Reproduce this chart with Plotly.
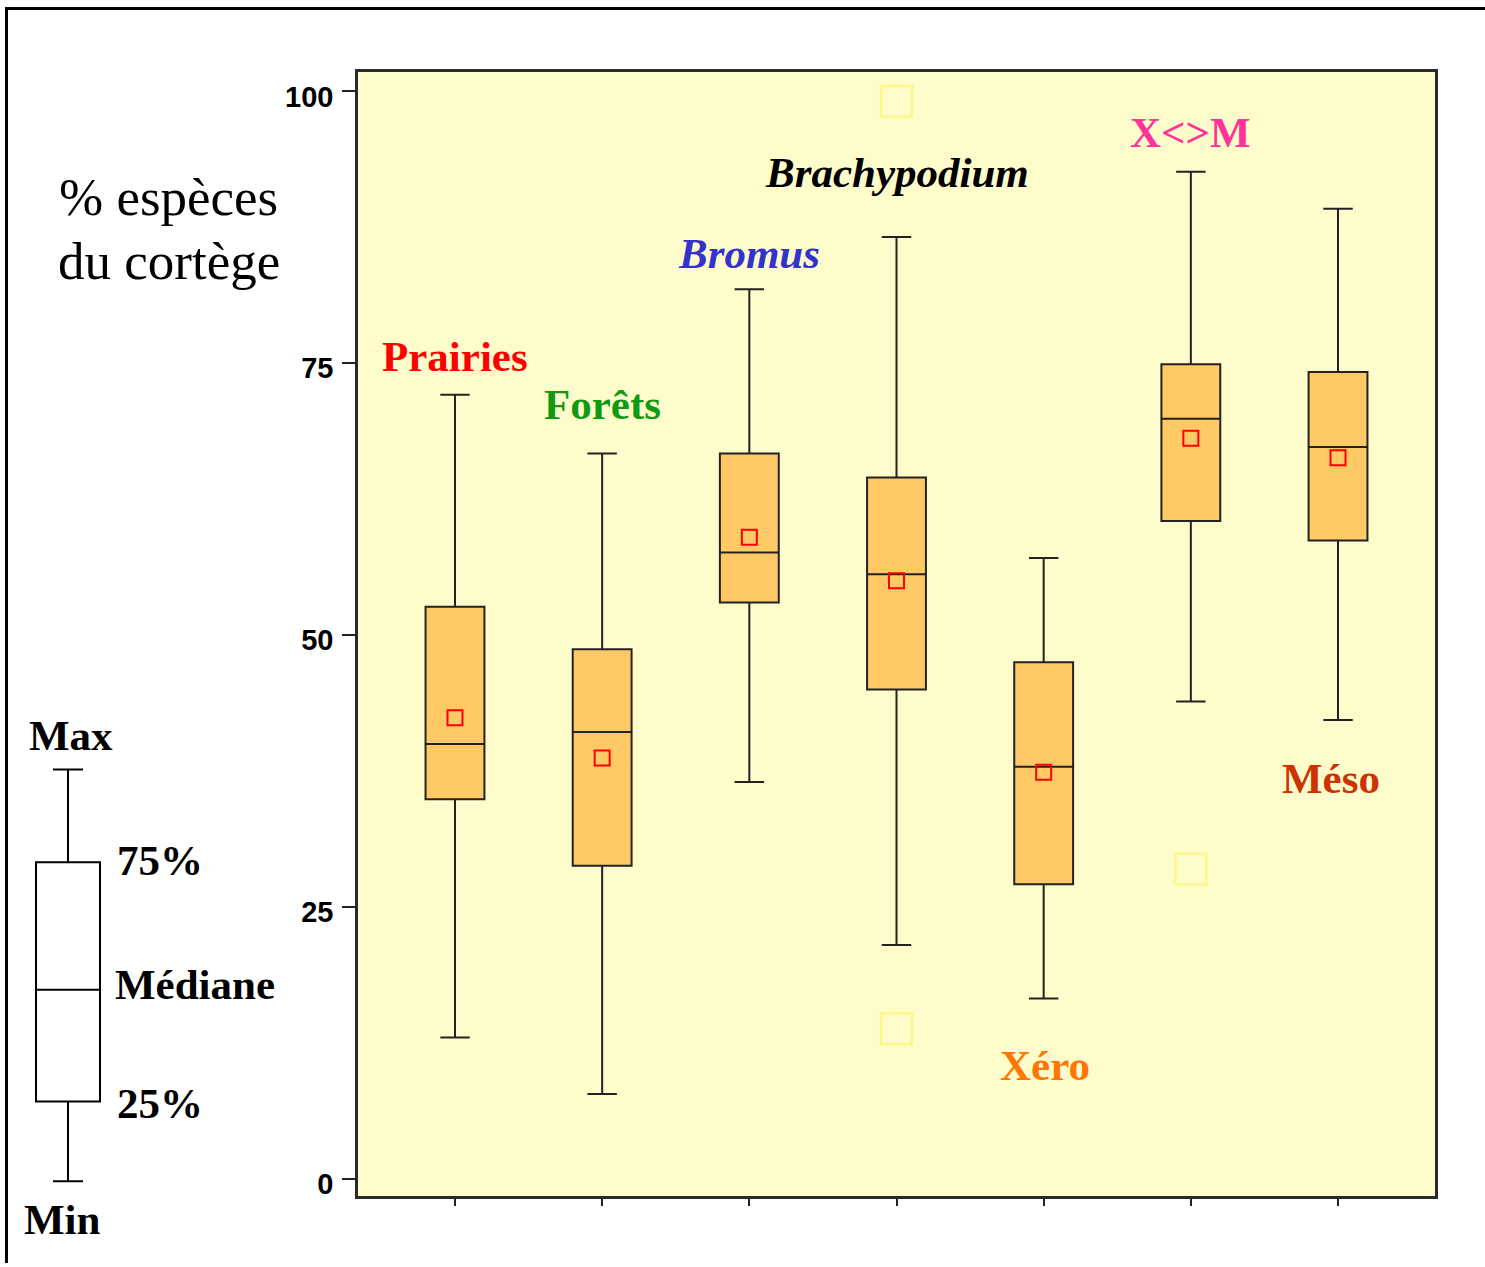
import plotly.graph_objects as go

W, H = 1485, 1267

# Groups of species, one box each
categories = ["Prairies", "Forêts", "Bromus", "Brachypodium", "Xéro", "X<>M", "Méso"]
positions = [0, 1, 2, 3, 4, 5, 6]

# Summary statistics (% of species of the group)
minimum = [13.0, 7.8, 36.5, 21.5, 16.6, 43.9, 42.2]
q1 = [34.9, 28.8, 53.0, 45.0, 27.1, 60.5, 58.7]
median = [40.0, 41.1, 57.6, 55.6, 37.9, 69.9, 67.3]
q3 = [52.6, 48.7, 66.7, 64.5, 47.5, 74.9, 74.2]
maximum = [72.1, 66.7, 81.8, 86.6, 57.1, 92.6, 89.2]
mean = [42.4, 38.7, 59.0, 55.0, 37.4, 68.1, 66.3]

# Outlying values
outlier_x = [3, 3, 5]
outlier_y = [99.1, 13.8, 28.5]

# Label placement for each group (position, value) and its colour / style
label_pos = [(0, 75.6), (1, 71.2), (2, 85.1), (3, 92.5), (4.01, 10.4), (5, 96.2), (5.95, 36.8)]
label_color = ["#ff0000", "#119911", "#3333cc", "#000000", "#ff7700", "#ff3399", "#cc3300"]
label_italic = [False, False, True, True, False, False, False]

# Schematic key box: min, 25%, median, 75%, max
key_stats = [0, 19.4, 46.5, 77.5, 100]


def px(x):
    return x / W


def py(y):
    return 1 - y / H


fig = go.Figure()

fig.add_trace(go.Box(
    x=positions, q1=q1, median=median, q3=q3,
    lowerfence=minimum, upperfence=maximum,
    width=0.4, whiskerwidth=0.5,
    fillcolor="#ffc966", line=dict(color="#222222", width=2),
    boxpoints=False, hoverinfo="skip", showlegend=False,
))

fig.add_trace(go.Scatter(
    x=positions, y=mean, mode="markers",
    marker=dict(symbol="square-open", size=15, color="#ff0000", line=dict(width=2)),
    showlegend=False, hoverinfo="skip",
))

fig.add_trace(go.Scatter(
    x=outlier_x, y=outlier_y, mode="markers",
    marker=dict(symbol="square-open", size=31, color="#fff68a", line=dict(width=2.5)),
    showlegend=False, hoverinfo="skip",
))

# Key box on its own axes
fig.add_trace(go.Box(
    x=[0], lowerfence=[key_stats[0]], q1=[key_stats[1]], median=[key_stats[2]],
    q3=[key_stats[3]], upperfence=[key_stats[4]],
    width=2 / 3, whiskerwidth=0.47,
    fillcolor="white", line=dict(color="#000000", width=2),
    boxpoints=False, hoverinfo="skip", showlegend=False,
    xaxis="x2", yaxis="y2",
))

for name, (xp, yp), col, it in zip(categories, label_pos, label_color, label_italic):
    fig.add_annotation(
        x=xp, y=yp, xref="x", yref="y", text=f"<b>{name}</b>" if not it else f"<b><i>{name}</i></b>",
        showarrow=False, font=dict(family="Liberation Serif", size=43, color=col),
        xanchor="center", yanchor="middle",
    )

key_labels = [("Max", 71, 738), ("75%", 160, 863), ("Médiane", 195, 988), ("25%", 160, 1107), ("Min", 62, 1223)]
for txt, kx, ky in key_labels:
    fig.add_annotation(
        x=px(kx), y=py(ky), xref="paper", yref="paper", text=f"<b>{txt}</b>",
        showarrow=False, font=dict(family="Liberation Serif", size=43, color="black"),
        xanchor="center", yanchor="middle",
    )

fig.add_annotation(
    x=px(57), y=py(198), xref="paper", yref="paper", text="% espèces",
    showarrow=False, font=dict(family="Liberation Serif", size=53, color="black"),
    xanchor="left", yanchor="middle",
)
fig.add_annotation(
    x=px(56), y=py(262), xref="paper", yref="paper", text="du cortège",
    showarrow=False, font=dict(family="Liberation Serif", size=53, color="black"),
    xanchor="left", yanchor="middle",
)

# Pale yellow background of the main plotting area
fig.add_shape(type="rect", xref="x domain", yref="y domain", x0=0, x1=1, y0=0, y1=1,
              fillcolor="#fffccb", line=dict(width=0), layer="below")

# Outer frame (top and left edges)
fig.add_shape(type="line", xref="paper", yref="paper", x0=px(6.5), x1=px(6.5), y0=0, y1=py(7),
              line=dict(color="black", width=3))
fig.add_shape(type="line", xref="paper", yref="paper", x0=px(5), x1=1, y0=py(8.5), y1=py(8.5),
              line=dict(color="black", width=3))

fig.update_layout(
    width=W, height=H,
    margin=dict(l=0, r=0, t=0, b=0),
    paper_bgcolor="white",
    plot_bgcolor="rgba(0,0,0,0)",
    showlegend=False,
    xaxis=dict(
        domain=[px(358), px(1435)], range=[-0.659, 6.659],
        tickvals=positions, showticklabels=False,
        ticks="outside", ticklen=7, tickwidth=1.5, tickcolor="#222222",
        showgrid=False, zeroline=False,
        showline=True, linecolor="#2a2a2a", linewidth=2.5, mirror=True,
    ),
    yaxis=dict(
        domain=[py(1200), py(72)], range=[-1.59, 101.8],
        tickvals=[0, 25, 50, 75, 100], ticktext=["0", "25", "50", "75", "100"],
        ticks="outside", ticklen=13, tickwidth=2, tickcolor="#222222",
        tickfont=dict(family="Liberation Sans", size=29, color="black", weight="bold"),
        ticklabelstandoff=3, ticklabelshift=5,
        showgrid=False, zeroline=False,
        showline=True, linecolor="#2a2a2a", linewidth=2.5, mirror=True,
    ),
    xaxis2=dict(
        domain=[px(20), px(116)], range=[-0.5, 0.5], anchor="y2",
        visible=False, showgrid=False, zeroline=False,
    ),
    yaxis2=dict(
        domain=[py(1195), py(762)], range=[-2.42, 102.42], anchor="x2",
        visible=False, showgrid=False, zeroline=False,
    ),
)

fig.write_html("out.html")
